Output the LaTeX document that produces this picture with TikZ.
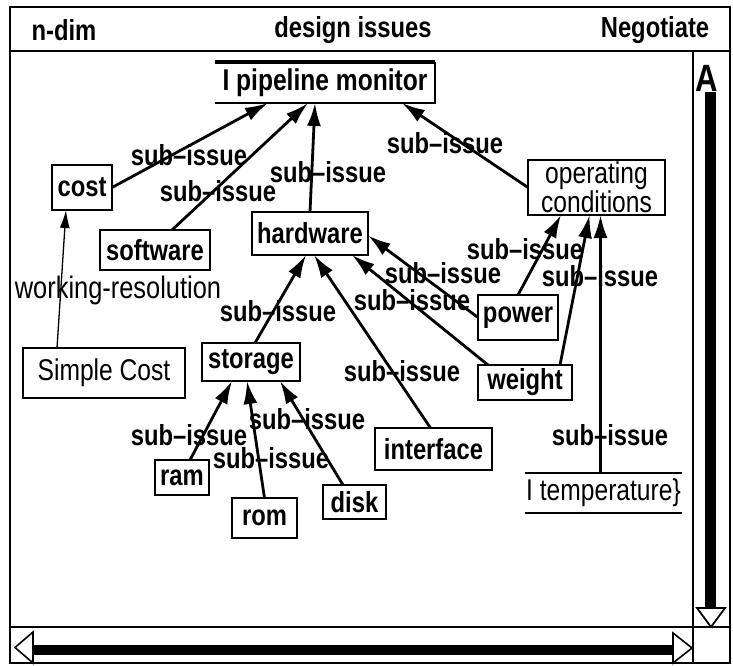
\documentclass[tikz,border=0pt]{standalone}
\usepackage{fontspec}
\setmainfont{Liberation Sans}
\newfontfamily\narrowsans{Liberation Sans}[FakeStretch=0.82, Ligatures=TeX]
\usetikzlibrary{arrows.meta,calc}

\tikzset{
  every node/.style={inner sep=0pt, outer sep=0pt},
  box/.style={draw, line width=2.8pt, align=center,
    font=\narrowsans\bfseries\fontsize{29}{29}\selectfont},
  plainbox/.style={box, font=\narrowsans\fontsize{30}{25}\selectfont},
  lbl/.style={font=\narrowsans\bfseries\fontsize{29}{29}\selectfont},
  titletext/.style={font=\narrowsans\bfseries\fontsize{29}{29}\selectfont},
  arr/.style={line width=2.8pt, -{Latex[length=23pt,width=14pt]}},
  thinarr/.style={line width=1.3pt, -{Latex[length=18pt,width=10pt]}},
  frame/.style={line width=2.4pt},
}

\begin{document}
\begin{tikzpicture}[x=1pt, y=-1pt]
\useasboundingbox (0,0) rectangle (733,666);

% window frame and title bar
\draw[frame] (10,7) rectangle (730,663);
\draw[frame] (10,51) -- (730,51);
\node[titletext] (ndim) at (64,30) {n-dim};
\node[titletext] (title) at (353,30) {design issues};
\node[titletext] (neg) at (655,30) {Negotiate};

% scroll bars
\draw[line width=1.6pt] (693,51) -- (693,663);
\draw[line width=2pt] (10,627) -- (730,627);
\node[font=\narrowsans\bfseries\fontsize{38}{38}\selectfont] (uparrow) at (707,78) {A};
\fill (705,92) rectangle (716,608);
\draw[line width=1.8pt] (697,608) -- (725,608) -- (711,627) -- cycle;
\draw[line width=1.6pt] (33,632) -- (15,647.5) -- (33,663) -- cycle;
\fill (33,645) rectangle (673,655);
\draw[line width=1.6pt] (673,633) -- (692,648) -- (673,663) -- cycle;

% issue nodes
\node[minimum width=220pt, minimum height=41pt,
      font=\narrowsans\bfseries\fontsize{30}{30}\selectfont] (pipe) at (325,82.5) {I pipeline monitor};
\draw[line width=3.6pt] (pipe.north west) -- (pipe.north east);
\draw[line width=2.8pt] (pipe.north east) -- (pipe.south east) -- (pipe.south west);

\node[box, minimum width=60pt, minimum height=45pt] (cost) at (82,187.5) {cost};
\node[box, minimum width=110pt, minimum height=40pt] (software) at (155,250) {software};
\node[box, minimum width=116pt, minimum height=43pt] (hardware) at (310,233.5) {hardware};
\node[plainbox, minimum width=137pt, minimum height=55pt] (opcond) at (596.5,187.5) {operating\\conditions};
\node[box, minimum width=80pt, minimum height=45pt] (power) at (518,317.5) {power};
\node[box, minimum width=94pt, minimum height=35pt] (weight) at (525,382.5) {weight};
\node[box, minimum width=98pt, minimum height=38pt] (storage) at (251,362) {storage};
\node[plainbox, minimum width=162pt, minimum height=50pt] (simple) at (104,373) {Simple Cost};
\node[box, minimum width=117pt, minimum height=42pt] (interface) at (433.5,449) {interface};
\node[box, minimum width=54pt, minimum height=35pt] (ram) at (182,477.5) {ram};
\node[box, minimum width=65pt, minimum height=40pt] (rom) at (264.5,518) {rom};
\node[box, minimum width=63pt, minimum height=34pt] (disk) at (354.5,502) {disk};
\node[minimum width=157pt, minimum height=40pt,
      font=\narrowsans\fontsize{30}{30}\selectfont] (temp) at (603.5,493) {I temperature\}};
\draw[line width=2.8pt] (temp.north west) -- (temp.north east);
\draw[line width=2.8pt] (temp.south west) -- (temp.south east);

% sub-issue links
\draw[arr] (cost.east) -- ($(pipe.south west)+(53,0)$);
\draw[arr] ($(software.north)+(17,0)$) -- ($(pipe.south west)+(93,0)$);
\draw[arr] (hardware.north) -- ($(pipe.south west)+(100,0)$);
\draw[arr] (opcond.west) -- ($(pipe.south east)+(-33,0)$);
\draw[arr] ($(storage.north)+(4,0)$) -- ($(hardware.south)+(-4,0)$);
\draw[arr] ($(interface.north)+(-3,0)$) -- ($(hardware.south)+(4,0)$);
\draw[arr] (power.west) -- ($(hardware.east)+(0,2)$);
\draw[arr] ($(weight.north west)+(10,0)$) -- ($(hardware.south east)+(-16,0)$);
\draw[arr] (power.north) -- ($(opcond.south west)+(33,0)$);
\draw[arr] ($(weight.north)+(35,0)$) -- ($(opcond.south)+(-7,0)$);
\draw[arr] ($(temp.north)+(-3,0)$) -- ($(opcond.south)+(4,0)$);
\draw[arr] ($(ram.north)+(8,0)$) -- ($(storage.south)+(-19,0)$);
\draw[arr] (rom.north) -- ($(storage.south)+(-4,0)$);
\draw[arr] ($(disk.north west)+(20,0)$) -- ($(storage.south)+(29,0)$);
\draw[thinarr] ($(simple.north west)+(34,0)$) -- ($(cost.south)+(-16,0)$);

% link labels
\node[lbl] (l1) at (189,155) {sub–issue};
\node[lbl] (l2) at (218,191) {sub–issue};
\node[lbl] (l3) at (328,172) {sub–issue};
\node[lbl] (l4) at (445,143) {sub–issue};
\node[lbl] (l5) at (525,249) {sub–issue};
\node[lbl] (l6) at (600,276) {sub–issue};
\node[lbl] (l7) at (443,273) {sub–issue};
\node[lbl] (l8) at (412,300) {sub–issue};
\node[lbl] (l9) at (278,311) {sub–issue};
\node[lbl] (l10) at (402,371) {sub–issue};
\node[lbl] (l11) at (610,435) {sub–issue};
\node[lbl] (l12) at (189,435) {sub–issue};
\node[lbl] (l13) at (307,419) {sub–issue};
\node[lbl] (l14) at (271,458) {sub–issue};
\node[font=\narrowsans\fontsize{31}{31}\selectfont] (l15) at (118,290) {working-resolution};

\end{tikzpicture}
\end{document}
